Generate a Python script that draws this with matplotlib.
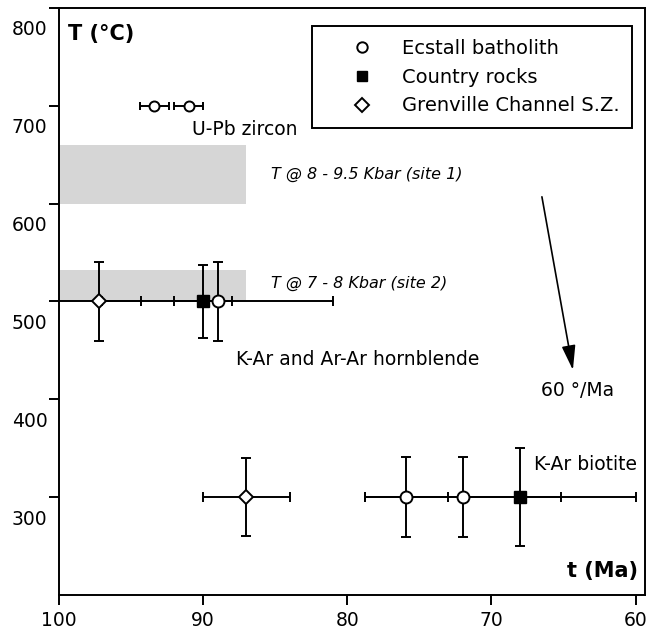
import numpy as np
import matplotlib
matplotlib.use("Agg")
import matplotlib.pyplot as plt
from matplotlib.lines import Line2D
from matplotlib.transforms import ScaledTranslation

# U-Pb zircon (Ecstall batholith)
zr_age = [93.4, 91.0]
zr_age_err = [1.0, 1.0]
zr_T = [700, 700]

# K-Ar and Ar-Ar hornblende
hb_ec_age, hb_ec_age_err, hb_ec_T, hb_ec_T_err = [89.0], [8.0], [500], [40]
hb_cr_age, hb_cr_age_err, hb_cr_T, hb_cr_T_err = [90.0], [2.0], [500], [37]
hb_gc_age, hb_gc_age_err, hb_gc_T, hb_gc_T_err = [97.2], [2.9], [500], [40]

# K-Ar biotite
bt_ec_age, bt_ec_age_err, bt_ec_T, bt_ec_T_err = [75.9, 72.0], [2.9, 6.8], [300, 300], [41, 41]
bt_cr_age, bt_cr_age_err, bt_cr_T, bt_cr_T_err = [68.0], [8.0], [300], [50]
bt_gc_age, bt_gc_age_err, bt_gc_T, bt_gc_T_err = [87.0], [3.0], [300], [40]

# P-T bands
band_age = [100, 87]
band1_T = [600, 660]
band2_T = [500, 532]

# cooling arrow
arrow_start = (66.5, 607)
arrow_end = (64.35, 430)

xticks = [100, 90, 80, 70, 60]
yticks = [300, 400, 500, 600, 700, 800]

fig = plt.figure(figsize=(6.62, 6.34), dpi=100)
ax = fig.add_axes([0.0891, 0.0615, 0.8852, 0.9259])

gray = "#d6d6d6"
ax.fill_between(band_age, band1_T[0], band1_T[1], color=gray, lw=0, zorder=0)
ax.fill_between(band_age, band2_T[0], band2_T[1], color=gray, lw=0, zorder=0)

eb = dict(fmt="none", ecolor="black", elinewidth=1.4, capthick=1.4, zorder=2)
ax.errorbar(zr_age, zr_T, xerr=zr_age_err, capsize=3, **eb)
ax.errorbar(hb_ec_age, hb_ec_T, xerr=hb_ec_age_err, yerr=hb_ec_T_err, capsize=3.5, **eb)
ax.errorbar(hb_cr_age, hb_cr_T, xerr=hb_cr_age_err, yerr=hb_cr_T_err, capsize=3.5, **eb)
ax.errorbar(hb_gc_age, hb_gc_T, xerr=hb_gc_age_err, yerr=hb_gc_T_err, capsize=3.5, **eb)
ax.errorbar(bt_ec_age, bt_ec_T, xerr=bt_ec_age_err, yerr=bt_ec_T_err, capsize=3.5, **eb)
ax.errorbar(bt_cr_age, bt_cr_T, xerr=bt_cr_age_err, yerr=bt_cr_T_err, capsize=3.5, **eb)
ax.errorbar(bt_gc_age, bt_gc_T, xerr=bt_gc_age_err, yerr=bt_gc_T_err, capsize=3.5, **eb)

circ = dict(marker="o", ms=8.6, mfc="white", mec="black", mew=1.4, ls="none", zorder=3)
sq = dict(marker="s", ms=8.4, mfc="black", mec="black", mew=1.0, ls="none", zorder=3)
dia = dict(marker="D", ms=7.6, mfc="white", mec="black", mew=1.4, ls="none", zorder=3)

ax.plot(zr_age, zr_T, **dict(circ, ms=7.2))
ax.plot(hb_ec_age + bt_ec_age, hb_ec_T + bt_ec_T, **circ)
ax.plot(hb_cr_age + bt_cr_age, hb_cr_T + bt_cr_T, **sq)
ax.plot(hb_gc_age + bt_gc_age, hb_gc_T + bt_gc_T, **dia)

ax.annotate("", xy=arrow_end, xytext=arrow_start,
            arrowprops=dict(arrowstyle="-|>,head_length=1.0,head_width=0.28",
                            mutation_scale=15, color="black", lw=1.2,
                            shrinkA=0, shrinkB=0))

ax.text(90.78, 676, "U-Pb zircon", fontsize=13.5, ha="left", va="center")
ax.text(85.3, 630, "T @ 8 - 9.5 Kbar (site 1)", fontsize=11.5, style="italic", ha="left", va="center")
ax.text(85.3, 518, "T @ 7 - 8 Kbar (site 2)", fontsize=11.5, style="italic", ha="left", va="center")
ax.text(87.7, 441, "K-Ar and Ar-Ar hornblende", fontsize=13.5, ha="left", va="center")
ax.text(66.54, 409, "60 °/Ma", fontsize=13.5, ha="left", va="center")
ax.text(67.05, 333, "K-Ar biotite", fontsize=13.5, ha="left", va="center")
ax.text(99.4, 773, "T (°C)", fontsize=15, fontweight="bold", ha="left", va="center")
ax.text(59.86, 225, "t (Ma)", fontsize=15, fontweight="bold", ha="right", va="center")

handles = [
    Line2D([], [], **dict(circ, ms=7.5)),
    Line2D([], [], **dict(sq, ms=7.5)),
    Line2D([], [], **dict(dia, ms=6.8)),
]
leg = ax.legend(handles, ["Ecstall batholith", "Country rocks", "Grenville Channel S.Z."],
                loc="upper right", bbox_to_anchor=(0.978, 0.969), borderaxespad=0,
                fontsize=14, frameon=True, fancybox=False, framealpha=1,
                edgecolor="black", handlelength=3.85, handletextpad=0.1,
                borderpad=0.66, labelspacing=0.5, numpoints=1)
leg.get_frame().set_linewidth(1.4)

ax.set_xlim(100, 59.35)
ax.set_ylim(200, 800)
ax.set_xticks(xticks)
ax.set_yticks(yticks)
ax.tick_params(direction="out", length=7.2, width=1.4, labelsize=13.5)
ax.tick_params(axis="y", pad=1)
ax.tick_params(axis="x", pad=4)
for s in ax.spines.values():
    s.set_linewidth(1.4)

# y tick labels sit below their ticks in the original
off = ScaledTranslation(0, -0.2, fig.dpi_scale_trans)
for lab in ax.get_yticklabels():
    lab.set_transform(lab.get_transform() + off)

fig.savefig("out.png", dpi=100)
